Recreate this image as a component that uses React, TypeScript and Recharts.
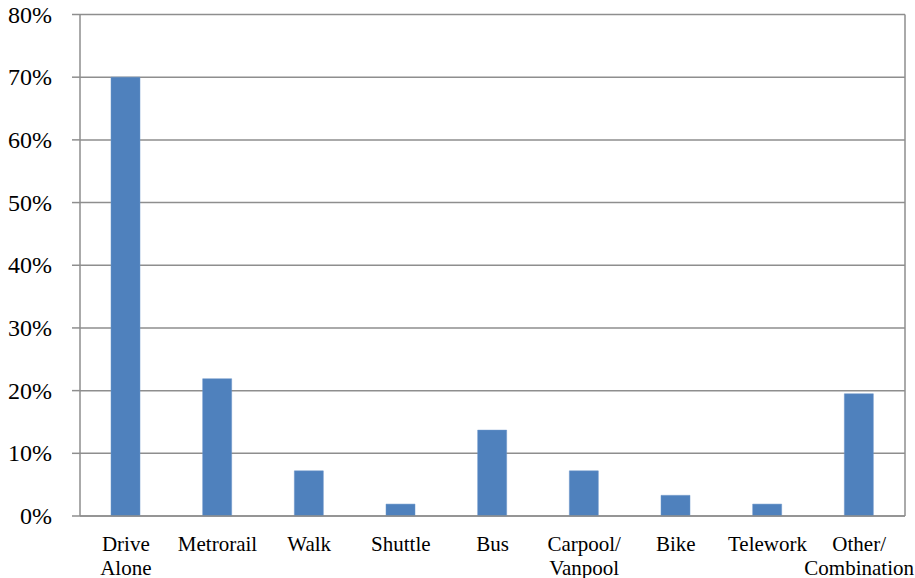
import React from "react";
import { BarChart, Bar, XAxis, YAxis, CartesianGrid } from "recharts";

// Commute mode share
const modes = [
  "Drive\nAlone",
  "Metrorail",
  "Walk",
  "Shuttle",
  "Bus",
  "Carpool/\nVanpool",
  "Bike",
  "Telework",
  "Other/\nCombination",
];
const shares = [70, 21.9, 7.2, 1.9, 13.7, 7.2, 3.3, 1.9, 19.5];
const yTicks = [0, 10, 20, 30, 40, 50, 60, 70, 80];

const data = modes.map((mode, i) => ({ mode, share: shares[i] }));

const FONT = '"Liberation Serif", "Times New Roman", serif';
const GRID = "#8e8e8e";

const YTick = (props: any) => {
  const { x, y, payload } = props;
  return (
    <text x={x - 18} y={y + 8} textAnchor="end" style={{ fontFamily: FONT, fontSize: 24 }} fill="#000">
      {payload.value}%
    </text>
  );
};

const XTick = (props: any) => {
  const { x, y, payload } = props;
  const lines = String(payload.value).split("\n");
  return (
    <text textAnchor="middle" style={{ fontFamily: FONT, fontSize: 21 }} fill="#000">
      {lines.map((line, i) => (
        <tspan key={i} x={x} y={y + 33 + i * 24}>
          {line}
        </tspan>
      ))}
    </text>
  );
};

export default function App() {
  return (
    <div style={{ position: "absolute", left: 0, top: 0, width: 915, height: 578, background: "#fff" }}>
      <BarChart
        width={915}
        height={578}
        data={data}
        margin={{ top: 14.5, right: 0, bottom: 32, left: 0 }}
        barSize={29}
      >
        <CartesianGrid vertical={false} stroke={GRID} strokeWidth={1.5} />
        <XAxis
          dataKey="mode"
          height={30}
          interval={0}
          tick={<XTick />}
          tickLine={false}
          tickSize={0}
          axisLine={{ stroke: GRID, strokeWidth: 1.5 }}
        />
        <YAxis
          width={80}
          domain={[0, 80]}
          ticks={yTicks}
          interval={0}
          tick={<YTick />}
          tickSize={8}
          tickLine={{ stroke: GRID, strokeWidth: 1.5 }}
          axisLine={{ stroke: GRID, strokeWidth: 1.5 }}
        />
        <YAxis
          yAxisId="frame"
          orientation="right"
          width={10}
          domain={[0, 80]}
          tick={false}
          tickLine={false}
          axisLine={{ stroke: GRID, strokeWidth: 1.5 }}
        />
        <Bar dataKey="share" fill="#4F81BD" stroke="#6a95c9" strokeWidth={0.5} isAnimationActive={false} />
      </BarChart>
    </div>
  );
}
